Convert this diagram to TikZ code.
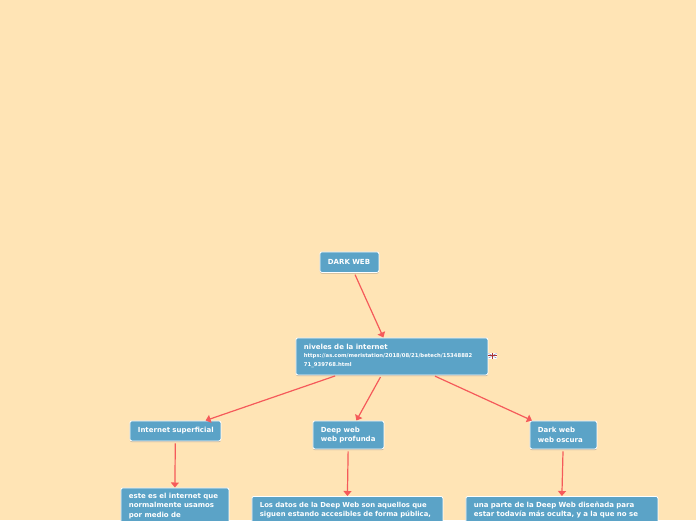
\documentclass[tikz,border=0pt]{standalone}
\usepackage{fontspec}
\setmainfont{DejaVu Sans}
\usetikzlibrary{arrows.meta,shadows}
\definecolor{paper}{HTML}{FFE4B5}
\definecolor{boxblue}{HTML}{5BA3C7}
\definecolor{linkred}{HTML}{F55A5A}
\tikzset{
  card/.style={rectangle,rounded corners=2pt,fill=boxblue,draw=white,line width=.8pt,
    text=white,anchor=north west,align=left,inner xsep=8pt,inner ysep=0pt,
    font=\bfseries\fontsize{7}{9.4}\selectfont,
    drop shadow={shadow xshift=0pt,shadow yshift=-1.2pt,fill=black!55,opacity=.45}},
  link/.style={draw=linkred,line width=1.2pt,shorten <=2pt,-{Triangle[length=5pt,width=8pt]}}
}
\begin{document}
\begin{tikzpicture}[x=1pt,y=-1pt]
\path[use as bounding box,fill=paper] (0,0) rectangle (696,520);
\clip (0,0) rectangle (696,520);
\node[card,text width=43pt,minimum height=20.5pt] (root) at (319.5,251.5) {\mbox{DARK WEB}};
\node[card,text width=176pt,minimum height=37pt] (levels) at (295.5,337.5) {\mbox{niveles de la internet}\\[-1.5pt]{\fontsize{5.3}{9}\selectfont \mbox{https://as.com/meristation/2018/08/21/betech/15348882}\\\mbox{71\_939768.html}}};
\node[card,text width=75pt,minimum height=20pt] (surf) at (129.5,420.5) {\mbox{Internet superficial}};
\node[card,text width=55pt,minimum height=28pt] (deep) at (312.5,420.5) {\mbox{Deep web}\\\mbox{web profunda}};
\node[card,text width=51pt,minimum height=28pt] (dark) at (529.5,420.5) {\mbox{Dark web}\\\mbox{web oscura}};
\node[card,text width=92pt,inner ysep=5pt] (surfnote) at (120.5,487.5) {\mbox{este es el internet que}\\\mbox{normalmente usamos}\\\mbox{por medio de}\\[40pt]\mbox{}};
\node[card,text width=175pt,inner ysep=5.5pt,font=\bfseries\fontsize{6.85}{9.4}\selectfont] (deepnote) at (251.5,496) {\mbox{Los datos de la Deep Web son aquellos que}\\\mbox{siguen estando accesibles de forma pública,}\\[40pt]\mbox{}};
\node[card,text width=176pt,inner ysep=5.5pt] (darknote) at (465.5,496) {\mbox{una parte de la Deep Web diseñada para}\\\mbox{estar todavía más oculta, y a la que no se}\\[40pt]\mbox{}};
\draw[link] (root) -- (levels);
\draw[link] (levels) -- (surf);
\draw[link] (levels) -- (deep);
\draw[link] (levels) -- (dark);
\draw[link] (surf) -- (surfnote.north);
\draw[link] (deep) -- (deepnote.north);
\draw[link] (dark) -- (darknote.north);
% small flag beside the link text
\fill[white] (488,353) rectangle (497,358.5);
\fill[red!60!black!80] (488,355.2) rectangle (497,356.3);
\fill[red!60!black!80] (492,353) rectangle (493,358.5);
\draw[blue!40!black!60,line width=.3pt] (488.5,353.5) -- (491.5,355) (493.5,356.5) -- (496.5,358);
\draw[blue!40!black!60,line width=.3pt] (488.5,358) -- (491.5,356.5) (493.5,355) -- (496.5,353.5);
\end{tikzpicture}
\end{document}
